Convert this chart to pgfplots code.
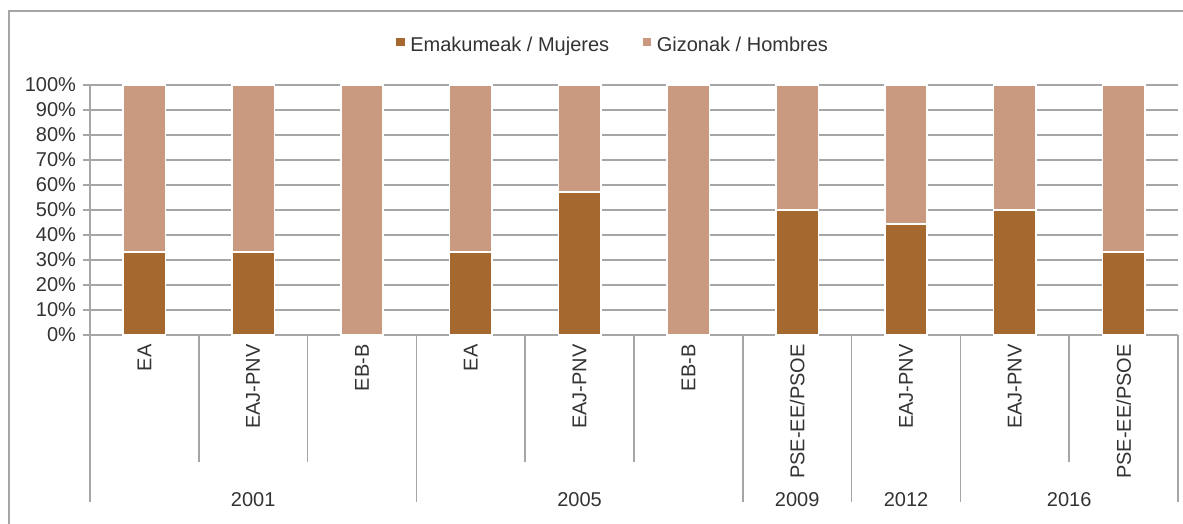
\documentclass[border=0pt]{standalone}
\usepackage{pgfplots}
\pgfplotsset{compat=1.18}
\usepackage{fontspec}
\setmainfont{Liberation Sans}
\definecolor{muj}{HTML}{A5682F}
\definecolor{giz}{HTML}{C99A80}
\definecolor{gridc}{HTML}{A6A6A8}
\definecolor{txt}{HTML}{333333}

\begin{document}
\begin{tikzpicture}
% canvas: 1 px of the reference = 0.5pt, axis lower left at px (90,335)
\path[use as bounding box] (-45pt,-94.5pt) rectangle (546.5pt,167.5pt);
\draw[gridc, line width=1pt] (-40.25pt,-94.5pt) -- (-40.25pt,162pt) -- (546.5pt,162pt);
\begin{axis}[
  at={(0pt,0pt)}, anchor=south west,
  scale only axis, width=544pt, height=125pt,
  ybar stacked, bar width=0.39,
  xmin=-0.5, xmax=9.5, ymin=0, ymax=100,
  axis x line*=bottom, axis y line*=left,
  axis line style={gridc, line width=0.8pt},
  xtick={0,...,9}, major x tick style={draw=none},
  xticklabels={EA,EAJ-PNV,EB-B,EA,EAJ-PNV,EB-B,PSE-EE/PSOE,EAJ-PNV,EAJ-PNV,PSE-EE/PSOE},
  x tick label style={rotate=90, anchor=east, inner sep=1pt, font=\fontsize{10}{12}\selectfont, text=txt},
  ytick={0,10,...,100},
  yticklabel={\pgfmathprintnumber{\tick}\%},
  y tick label style={font=\fontsize{10}{12}\selectfont, text=txt},
  /pgf/number format/assume math mode=true,
  tick align=outside, major tick length=3.5pt,
  major y tick style={gridc, line width=0.8pt},
  ymajorgrids, grid style={gridc, line width=0.8pt},
  clip=false,
  legend columns=2,
  legend style={at={(0.481,1.156)}, anchor=center, draw=none, fill=none,
    font=\fontsize{10}{12}\selectfont, text=txt,
    /tikz/every even column/.append style={column sep=14pt}},
  legend image code/.code={\fill[#1] (0pt,-0.5pt) rectangle (5pt,4.5pt);},
]
\addplot[fill=muj, draw=white, line width=0.8pt] coordinates
  {(0,33.3) (1,33.3) (2,0) (3,33.3) (4,57.1) (5,0) (6,50) (7,44.4) (8,50) (9,33.3)};
\addlegendentry{Emakumeak / Mujeres}
\addplot[fill=giz, draw=white, line width=0.8pt] coordinates
  {(0,66.7) (1,66.7) (2,100) (3,66.7) (4,42.9) (5,100) (6,50) (7,55.6) (8,50) (9,66.7)};
\addlegendentry{Gizonak / Hombres}
% category separators: group borders run down past the year labels
\pgfplotsinvokeforeach{-0.5,2.5,5.5,6.5,7.5,9.5}{
  \draw[gridc, line width=0.8pt] (axis cs:#1,0) -- ++(0pt,-83.5pt);
}
\pgfplotsinvokeforeach{0.5,1.5,3.5,4.5,8.5}{
  \draw[gridc, line width=0.8pt] (axis cs:#1,0) -- ++(0pt,-63.5pt);
}
% year labels
\path (axis cs:1,0) ++(0pt,-82.5pt) node[text=txt, font=\fontsize{10}{12}\selectfont] {2001};
\path (axis cs:4,0) ++(0pt,-82.5pt) node[text=txt, font=\fontsize{10}{12}\selectfont] {2005};
\path (axis cs:6,0) ++(0pt,-82.5pt) node[text=txt, font=\fontsize{10}{12}\selectfont] {2009};
\path (axis cs:7,0) ++(0pt,-82.5pt) node[text=txt, font=\fontsize{10}{12}\selectfont] {2012};
\path (axis cs:8.5,0) ++(0pt,-82.5pt) node[text=txt, font=\fontsize{10}{12}\selectfont] {2016};
\end{axis}
\end{tikzpicture}
\end{document}
